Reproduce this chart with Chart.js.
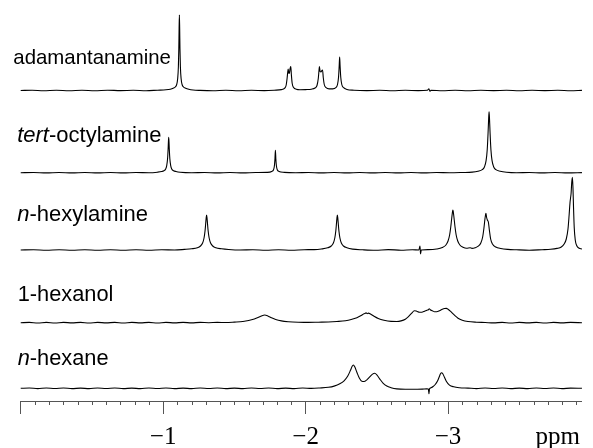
<!DOCTYPE html>
<html><head><meta charset="utf-8">
<script src="https://cdn.jsdelivr.net/npm/chart.js@4.4.1/dist/chart.umd.min.js"></script>
<style>html,body{margin:0;padding:0;background:#fff}canvas{display:block}</style>
</head><body>
<canvas id="c" width="593" height="448"></canvas>
<script>
// ---- data (chemical shift in ppm, intensity in arbitrary units) ----
const seriesNames = ['adamantanamine', 'tert-octylamine', 'n-hexylamine', '1-hexanol', 'n-hexane'];
const labelParts = [
  [['adamantanamine', false]],
  [['tert', true], ['-octylamine', false]],
  [['n', true], ['-hexylamine', false]],
  [['1-hexanol', false]],
  [['n', true], ['-hexane', false]]
];
const majorTicks = [0, -1, -2, -3];
const tickLabels = ['', '\u22121', '\u22122', '\u22123'];
const unitLabel = 'ppm';
const unitTick = -3.77;
const ppmMin = -3.94, ppmMax = 0, minorStep = 0.1;

const adamantanamine = [[0.00,0],[-0.08,0.3],[-0.16,-0.2],[-0.25,0.2],[-0.34,-0.3],[-0.43,0.2],[-0.52,-0.2],[-0.61,0.3],[-0.70,-0.1],[-0.79,0.2],[-0.88,-0.2],[-0.96,0.3],[-1.02,0.7],[-1.05,1.3],[-1.07,2.2],[-1.085,3.5],[-1.095,6],[-1.102,12],[-1.107,24],[-1.110,42],[-1.112,62],[-1.114,75.5],[-1.116,62],[-1.118,42],[-1.121,24],[-1.126,12],[-1.133,6],[-1.143,3.5],[-1.158,2.2],[-1.18,1.2],[-1.21,0.5],[-1.26,0.1],[-1.35,-0.2],[-1.44,0.2],[-1.53,-0.2],[-1.62,0.2],[-1.71,-0.1],[-1.78,0.3],[-1.83,0.9],[-1.852,2.2],[-1.863,5],[-1.870,12],[-1.875,19],[-1.878,21.5],[-1.882,17],[-1.886,17],[-1.891,22],[-1.896,24],[-1.900,16],[-1.906,7],[-1.916,3],[-1.935,1.3],[-1.96,0.8],[-2.0,0.9],[-2.04,1.3],[-2.066,2.5],[-2.08,5],[-2.089,12],[-2.094,20],[-2.097,24],[-2.102,19],[-2.108,18.5],[-2.114,20],[-2.119,20.5],[-2.124,13],[-2.131,6],[-2.144,2.8],[-2.165,1.6],[-2.19,1.6],[-2.212,2.8],[-2.224,6],[-2.231,13],[-2.236,25],[-2.239,33.5],[-2.242,25],[-2.247,13],[-2.254,6],[-2.267,2.8],[-2.29,1.1],[-2.34,0.3],[-2.43,-0.1],[-2.52,0.2],[-2.61,-0.2],[-2.70,0.2],[-2.79,-0.1],[-2.855,0.2],[-2.866,1.8],[-2.872,-0.8],[-2.88,0.2],[-2.96,-0.2],[-3.05,0.2],[-3.14,-0.2],[-3.23,0.2],[-3.32,-0.1],[-3.41,0.2],[-3.50,-0.2],[-3.59,0.2],[-3.68,-0.1],[-3.77,0.2],[-3.86,-0.2],[-3.94,0.1]];

const tertOctylamine = [[0,0],[-0.09,0.2],[-0.18,-0.2],[-0.27,0.2],[-0.36,-0.2],[-0.45,0.2],[-0.54,-0.2],[-0.63,0.2],[-0.72,-0.2],[-0.81,0.2],[-0.90,-0.1],[-0.96,0.5],[-0.99,1.2],[-1.005,2],[-1.017,3.5],[-1.025,7],[-1.031,14],[-1.035,24],[-1.037,31],[-1.039,35.5],[-1.041,31],[-1.043,24],[-1.047,14],[-1.053,7],[-1.061,3.5],[-1.073,2],[-1.09,1.2],[-1.12,0.5],[-1.2,0],[-1.29,0.2],[-1.38,-0.2],[-1.47,0.2],[-1.56,-0.2],[-1.65,0.2],[-1.73,0.3],[-1.762,1.2],[-1.775,3],[-1.781,7],[-1.785,14],[-1.788,22.5],[-1.791,14],[-1.795,7],[-1.801,3],[-1.814,1.2],[-1.85,0.3],[-1.93,-0.1],[-2.02,0.2],[-2.11,-0.2],[-2.2,0.2],[-2.29,-0.2],[-2.38,0.2],[-2.47,-0.2],[-2.56,0.2],[-2.65,-0.2],[-2.74,0.2],[-2.83,-0.2],[-2.92,0.2],[-3.01,-0.1],[-3.1,0.2],[-3.17,0.6],[-3.21,1.5],[-3.24,3],[-3.256,6],[-3.267,12],[-3.275,23],[-3.281,40],[-3.285,54],[-3.288,61],[-3.291,54],[-3.295,40],[-3.301,23],[-3.309,12],[-3.32,6],[-3.336,3],[-3.366,1.5],[-3.41,0.5],[-3.48,0],[-3.57,0.2],[-3.66,-0.2],[-3.75,0.2],[-3.84,-0.2],[-3.94,0.1]];

const nHexylamine = [[0,0],[-0.09,0.3],[-0.18,-0.3],[-0.27,0.3],[-0.36,-0.2],[-0.45,0.3],[-0.54,-0.3],[-0.63,0.3],[-0.72,-0.2],[-0.81,0.3],[-0.90,-0.3],[-0.99,0.3],[-1.08,0],[-1.15,0.6],[-1.20,1.2],[-1.24,2.2],[-1.262,4],[-1.277,7],[-1.287,12],[-1.294,19],[-1.299,27],[-1.302,32],[-1.305,35],[-1.308,32],[-1.311,27],[-1.316,19],[-1.323,12],[-1.333,7],[-1.348,4],[-1.37,2.2],[-1.41,1.2],[-1.46,0.5],[-1.54,0],[-1.63,0.3],[-1.72,-0.3],[-1.81,0.3],[-1.90,-0.2],[-1.99,0.3],[-2.06,0.4],[-2.11,1],[-2.155,2.2],[-2.18,4],[-2.195,7],[-2.205,12],[-2.212,19],[-2.217,27],[-2.220,32],[-2.223,35],[-2.226,32],[-2.229,27],[-2.234,19],[-2.241,12],[-2.251,7],[-2.266,4],[-2.29,2.2],[-2.33,0.9],[-2.40,0.2],[-2.49,-0.3],[-2.58,0.4],[-2.67,-0.2],[-2.75,0.3],[-2.795,0],[-2.803,4],[-2.807,-4],[-2.812,0],[-2.86,0.4],[-2.92,1],[-2.96,2.5],[-2.985,5],[-3.0,9],[-3.011,15],[-3.019,23],[-3.026,32],[-3.031,38],[-3.034,40],[-3.037,38],[-3.042,32],[-3.049,23],[-3.057,15],[-3.068,9],[-3.083,5],[-3.105,2.8],[-3.13,1.8],[-3.155,2.2],[-3.168,1.6],[-3.19,2.2],[-3.212,3.8],[-3.23,7],[-3.243,13],[-3.252,22],[-3.259,31],[-3.263,35],[-3.266,36.7],[-3.270,33],[-3.276,30],[-3.283,28],[-3.29,20],[-3.299,11],[-3.312,6],[-3.335,3],[-3.37,1.5],[-3.42,0.6],[-3.48,0.2],[-3.57,-0.2],[-3.66,0.3],[-3.72,0.7],[-3.765,1.6],[-3.795,3],[-3.815,6],[-3.83,11],[-3.842,21],[-3.85,35],[-3.856,47],[-3.86,52],[-3.864,57],[-3.868,67],[-3.873,72.7],[-3.877,62],[-3.881,42],[-3.886,22],[-3.893,10],[-3.903,4.5],[-3.918,2],[-3.94,0.9]];

const hexanol = [[0,0],[-0.06,0.3],[-0.12,-0.3],[-0.18,0.3],[-0.24,-0.3],[-0.30,0.3],[-0.36,-0.2],[-0.42,0.3],[-0.48,-0.3],[-0.54,0.3],[-0.60,-0.2],[-0.66,0.3],[-0.72,-0.3],[-0.78,0.3],[-0.84,-0.2],[-0.90,0.3],[-0.96,-0.3],[-1.02,0.3],[-1.08,-0.2],[-1.14,0.3],[-1.20,-0.2],[-1.26,0.3],[-1.32,0],[-1.38,0.3],[-1.44,0.2],[-1.50,0.6],[-1.56,1.2],[-1.60,2.2],[-1.64,3.8],[-1.67,5.5],[-1.69,6.8],[-1.713,7.7],[-1.735,6.8],[-1.76,5],[-1.79,3.2],[-1.83,1.8],[-1.88,1],[-1.95,0.5],[-2.02,0.3],[-2.09,0.5],[-2.16,0.7],[-2.22,1.2],[-2.28,2],[-2.32,3.2],[-2.36,5],[-2.39,7.2],[-2.41,9],[-2.42,9.5],[-2.425,10],[-2.432,9],[-2.44,9.6],[-2.455,8.8],[-2.48,6.5],[-2.51,4.2],[-2.55,2.4],[-2.60,1.3],[-2.64,1.2],[-2.67,1.8],[-2.70,3.5],[-2.725,6.5],[-2.745,9.5],[-2.763,12],[-2.78,11.5],[-2.80,10.5],[-2.816,10.5],[-2.835,11.5],[-2.852,12.5],[-2.862,13],[-2.868,14],[-2.875,13],[-2.89,12],[-2.905,11],[-2.92,11],[-2.94,12],[-2.96,13.5],[-2.975,14.2],[-2.988,14.3],[-3.0,13.5],[-3.02,11],[-3.045,7.5],[-3.07,4.5],[-3.10,2.5],[-3.14,1.2],[-3.20,0.5],[-3.26,0.2],[-3.32,-0.2],[-3.38,0.3],[-3.44,-0.3],[-3.50,0.3],[-3.56,-0.2],[-3.62,0.3],[-3.68,-0.3],[-3.74,0.3],[-3.80,-0.2],[-3.86,0.3],[-3.94,0]];

const nHexane = [[0,0],[-0.06,0.3],[-0.12,-0.3],[-0.18,0.3],[-0.24,-0.2],[-0.30,0.3],[-0.36,-0.3],[-0.42,0.2],[-0.48,-0.3],[-0.54,0.3],[-0.60,-0.2],[-0.66,0.3],[-0.72,-0.3],[-0.78,0.2],[-0.84,-0.3],[-0.90,0.3],[-0.96,-0.2],[-1.02,0.3],[-1.08,-0.3],[-1.14,0.2],[-1.20,-0.3],[-1.26,0.3],[-1.32,-0.2],[-1.38,0.3],[-1.44,-0.3],[-1.50,0.2],[-1.56,-0.3],[-1.62,0.3],[-1.68,-0.2],[-1.74,0.3],[-1.80,-0.3],[-1.86,0.2],[-1.92,-0.3],[-1.98,0.3],[-2.04,-0.1],[-2.1,0.3],[-2.16,1],[-2.2,2.2],[-2.24,4.5],[-2.27,7.5],[-2.295,12],[-2.315,18],[-2.327,22],[-2.335,23.3],[-2.345,21.5],[-2.36,16],[-2.378,10],[-2.395,7],[-2.41,6.8],[-2.43,8.5],[-2.45,11.5],[-2.47,14.2],[-2.485,15],[-2.50,13.5],[-2.52,9.5],[-2.545,5],[-2.57,2.2],[-2.60,0.6],[-2.64,-0.6],[-2.70,-1],[-2.76,-1],[-2.82,-0.8],[-2.85,-0.6],[-2.862,-0.8],[-2.866,-5.5],[-2.870,-0.5],[-2.88,0.5],[-2.895,1.8],[-2.91,3.8],[-2.925,7],[-2.937,11],[-2.947,14.5],[-2.955,15.6],[-2.963,14.5],[-2.975,11],[-2.99,6.5],[-3.01,3.2],[-3.04,1.5],[-3.08,0.6],[-3.14,0.2],[-3.2,-0.3],[-3.26,0.3],[-3.32,-0.2],[-3.38,0.3],[-3.44,-0.3],[-3.50,0.2],[-3.56,-0.3],[-3.62,0.3],[-3.68,-0.2],[-3.74,0.3],[-3.80,-0.3],[-3.86,0.2],[-3.94,0]];

const seriesData = [adamantanamine, tertOctylamine, nHexylamine, hexanol, nHexane];

// ---- layout / style constants ----
const plotBottomPx = 401;          // axis line position
const traceBaselinePx = [90.5, 172.7, 250, 322.7, 388.3];
const labelRise = [27, 31, 29, 22, 23];
const labelInset = [7.4, 3.5, 3.5, 3, 3];
const labelSize = [20.4, 22, 22, 21.8, 21.8];
const minorTickLen = 4;
const axisColor = '#555';

const yScales = {};
seriesNames.forEach((n, i) => {
  const b = traceBaselinePx[i];
  yScales['y' + i] = { type: 'linear', display: false, min: b - plotBottomPx, max: b };
});

const minorTickPlugin = {
  id: 'minorTicks',
  afterDraw(chart) {
    const s = chart.scales.x, ctx = chart.ctx;
    ctx.save();
    ctx.strokeStyle = axisColor; ctx.lineWidth = 1;
    const n = Math.round((ppmMax - ppmMin) / minorStep);
    for (let k = 0; k <= n; k++) {
      const v = ppmMax - k * minorStep;
      if (v < ppmMin - 1e-9) break;
      if (Math.abs(v - Math.round(v)) < 1e-6) continue;
      const x = Math.round(s.getPixelForValue(v)) + 0.5;
      ctx.beginPath(); ctx.moveTo(x, s.top); ctx.lineTo(x, s.top + minorTickLen); ctx.stroke();
    }
    ctx.restore();
  }
};

const labelPlugin = {
  id: 'traceLabels',
  afterDatasetsDraw(chart) {
    const ctx = chart.ctx, left = chart.chartArea.left;
    seriesNames.forEach((name, i) => {
      const ys = chart.scales['y' + i];
      const y = ys.getPixelForValue(labelRise[i]);
      let x = left - labelInset[i];
      ctx.save();
      ctx.fillStyle = '#000'; ctx.textBaseline = 'alphabetic'; ctx.textAlign = 'left';
      labelParts[i].forEach(([t, it]) => {
        ctx.font = (it ? 'italic ' : '') + labelSize[i] + 'px "Liberation Sans", Arial, sans-serif';
        ctx.fillText(t, x, y);
        x += ctx.measureText(t).width;
      });
      ctx.restore();
    });
  }
};

new Chart(document.getElementById('c'), {
  type: 'line',
  data: {
    datasets: seriesData.map((arr, i) => ({
      label: seriesNames[i],
      data: arr.map(([x, y]) => ({ x, y })),
      yAxisID: 'y' + i,
      borderColor: '#000',
      borderWidth: 1.1,
      pointRadius: 0,
      fill: false,
      cubicInterpolationMode: 'monotone',
      clip: false
    }))
  },
  options: {
    responsive: false,
    devicePixelRatio: 1,
    animation: false,
    layout: { padding: { left: 20.7, right: 1, top: 0, bottom: 0 } },
    plugins: { legend: { display: false }, tooltip: { enabled: false } },
    scales: Object.assign({
      x: {
        type: 'linear', reverse: true, min: ppmMin, max: ppmMax,
        afterBuildTicks: (s) => {
          s.ticks = majorTicks.map(v => ({ value: v })).concat([{ value: unitTick }]);
        },
        afterFit: (s) => { s.height = 448 - plotBottomPx; },
        ticks: {
          autoSkip: false, maxRotation: 0, minRotation: 0, padding: 13, color: '#000',
          font: { family: '"Liberation Serif", "Times New Roman", serif', size: 25, lineHeight: 0.84 },
          callback: (v, i) => (i < tickLabels.length ? tickLabels[i] : unitLabel)
        },
        grid: {
          drawOnChartArea: false, drawTicks: true, tickLength: 13, tickWidth: 1,
          tickColor: (ctx) => (ctx.index < majorTicks.length ? axisColor : 'rgba(0,0,0,0)')
        },
        border: { display: true, color: axisColor, width: 1 }
      }
    }, yScales)
  },
  plugins: [minorTickPlugin, labelPlugin]
});
</script>
</body></html>
